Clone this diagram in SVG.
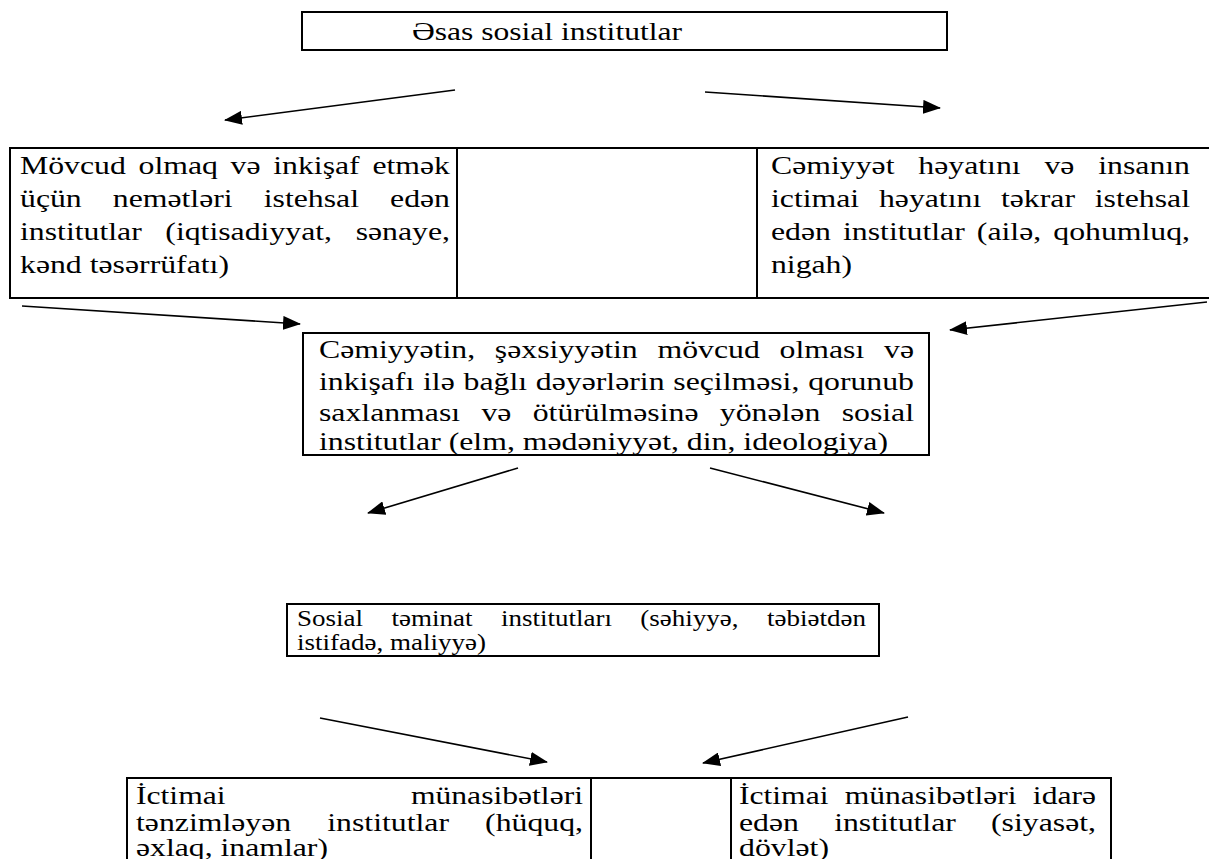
<svg xmlns="http://www.w3.org/2000/svg" width="1209" height="859" viewBox="0 0 1209 859">
<style>
.bg{fill:#fff}
.box{fill:none;stroke:#000;stroke-width:2}
.ln{stroke:#000;stroke-width:2;fill:none}
.arr{stroke:#000;stroke-width:1.6;fill:none;marker-end:url(#ah)}
.t{font-family:"Liberation Serif","Times New Roman",serif;font-size:25px;fill:#000}
.s{font-size:24px}
</style>
<defs>
<marker id="ah" markerUnits="userSpaceOnUse" markerWidth="18" markerHeight="14" refX="17" refY="7" orient="auto">
<path d="M0,0 L18,7 L0,14 z" fill="#000"/>
</marker>
</defs>
<rect class="bg" x="0" y="0" width="1209" height="859"/>

<g id="title" class="t">
<rect class="box" x="302" y="12" width="645" height="38"/>
<text x="412" y="40" textLength="270" lengthAdjust="spacingAndGlyphs">Əsas sosial institutlar</text>
</g>

<g id="row1-table">
<line class="ln" x1="9" y1="148" x2="1209" y2="148"/>
<line class="ln" x1="9" y1="298" x2="1209" y2="298"/>
<line class="ln" x1="10" y1="148" x2="10" y2="298"/>
<line class="ln" x1="457" y1="148" x2="457" y2="298"/>
<line class="ln" x1="757" y1="148" x2="757" y2="298"/>
</g>

<g id="node-production" class="t">
<text x="20" y="174" textLength="430" lengthAdjust="spacingAndGlyphs" style="word-spacing:3.75px">Mövcud olmaq və inkişaf etmək</text>
<text x="20" y="207" textLength="430" lengthAdjust="spacingAndGlyphs" style="word-spacing:18.2px">üçün nemətləri istehsal edən</text>
<text x="20" y="240" textLength="430" lengthAdjust="spacingAndGlyphs" style="word-spacing:12.35px">institutlar (iqtisadiyyat, sənaye,</text>
<text x="20" y="273" textLength="209" lengthAdjust="spacingAndGlyphs">kənd təsərrüfatı)</text>
</g>

<g id="node-reproduction" class="t">
<text x="771" y="174" textLength="419" lengthAdjust="spacingAndGlyphs" style="word-spacing:12.52px">Cəmiyyət həyatını və insanın</text>
<text x="771" y="207" textLength="419" lengthAdjust="spacingAndGlyphs" style="word-spacing:9.28px">ictimai həyatını təkrar istehsal</text>
<text x="771" y="240" textLength="419" lengthAdjust="spacingAndGlyphs" style="word-spacing:3.27px">edən institutlar (ailə, qohumluq,</text>
<text x="771" y="273" textLength="81" lengthAdjust="spacingAndGlyphs">nigah)</text>
</g>

<g id="node-values" class="t">
<rect class="box" x="303" y="333" width="626" height="122"/>
<text x="319" y="358" textLength="595" lengthAdjust="spacingAndGlyphs" style="word-spacing:9.31px">Cəmiyyətin, şəxsiyyətin mövcud olması və</text>
<text x="319" y="390" textLength="595" lengthAdjust="spacingAndGlyphs" style="word-spacing:0.66px">inkişafı ilə bağlı dəyərlərin seçilməsi, qorunub</text>
<text x="319" y="421" textLength="595" lengthAdjust="spacingAndGlyphs" style="word-spacing:10.54px">saxlanması və ötürülməsinə yönələn sosial</text>
<text x="319" y="450" textLength="569" lengthAdjust="spacingAndGlyphs">institutlar (elm, mədəniyyət, din, ideologiya)</text>
</g>

<g id="node-social-security" class="t s">
<rect class="box" x="287" y="604" width="592" height="52"/>
<text x="297" y="626" textLength="569" lengthAdjust="spacingAndGlyphs" style="word-spacing:19.3px">Sosial təminat institutları (səhiyyə, təbiətdən</text>
<text x="297" y="650" textLength="189" lengthAdjust="spacingAndGlyphs">istifadə, maliyyə)</text>
</g>

<g id="row3-table">
<line class="ln" x1="126" y1="778" x2="1112" y2="778"/>
<line class="ln" x1="127" y1="778" x2="127" y2="859"/>
<line class="ln" x1="591" y1="778" x2="591" y2="859"/>
<line class="ln" x1="731" y1="778" x2="731" y2="859"/>
<line class="ln" x1="1111" y1="778" x2="1111" y2="859"/>
</g>

<g id="node-regulating" class="t">
<text x="136" y="804" textLength="447" lengthAdjust="spacingAndGlyphs" style="word-spacing:140.3px">İctimai münasibətləri</text>
<text x="136" y="831" textLength="447" lengthAdjust="spacingAndGlyphs" style="word-spacing:22.2px">tənzimləyən institutlar (hüquq,</text>
<text x="136" y="856" textLength="192" lengthAdjust="spacingAndGlyphs">əxlaq, inamlar)</text>
</g>

<g id="node-governing" class="t">
<text x="739" y="804" textLength="357" lengthAdjust="spacingAndGlyphs" style="word-spacing:6.6px">İctimai münasibətləri idarə</text>
<text x="739" y="831" textLength="357" lengthAdjust="spacingAndGlyphs" style="word-spacing:21.45px">edən institutlar (siyasət,</text>
<text x="739" y="856" textLength="90" lengthAdjust="spacingAndGlyphs">dövlət)</text>
</g>

<g id="connectors">
<line class="arr" x1="455" y1="90" x2="225" y2="120"/>
<line class="arr" x1="705" y1="92" x2="940" y2="108"/>
<line class="arr" x1="22" y1="306" x2="300" y2="324"/>
<line class="arr" x1="1207" y1="302" x2="950" y2="330"/>
<line class="arr" x1="518" y1="468" x2="368" y2="513"/>
<line class="arr" x1="710" y1="468" x2="884" y2="513"/>
<line class="arr" x1="320" y1="718" x2="547" y2="762"/>
<line class="arr" x1="908" y1="717" x2="703" y2="763"/>
</g>
</svg>
